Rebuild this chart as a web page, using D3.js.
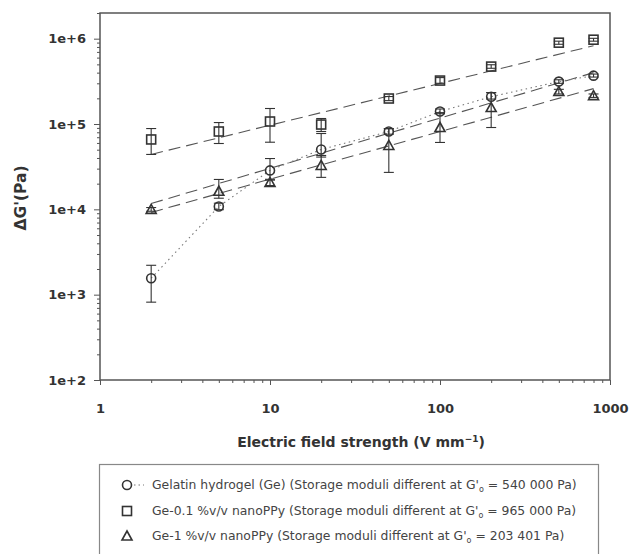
<!DOCTYPE html>
<html><head><meta charset="utf-8">
<script src="https://cdn.jsdelivr.net/npm/d3@7"></script>
<style>
body{margin:0;background:#fff;}
text{font-family:"DejaVu Sans",Arial,sans-serif;}
</style></head>
<body><svg id="c" width="629" height="554"></svg>
<script>
// ---- data ----
const fieldStrength = [2, 5, 10, 20, 50, 100, 200, 500, 800];
const geMean   = [1560, 10800, 28600, 50300, 81700, 140000, 209000, 314000, 369000];
const geLow    = [817, 9900, 22000, 41000, 76000, 132000, 196000, 300000, 355000];
const geHigh   = [2210, 11800, 39400, 77400, 88000, 150000, 233000, 330000, 385000];
const ge01Mean = [65900, 81700, 107000, 98600, 199000, 323000, 471000, 898000, 973000];
const ge01Low  = [44000, 59100, 61200, 81700, 188000, 300000, 450000, 860000, 935000];
const ge01High = [88500, 104000, 152000, 116000, 210000, 350000, 495000, 935000, 1010000];
const ge1Mean  = [10000, 16300, 20700, 32700, 56100, 91000, 156000, 240000, 215000];
const ge1Low   = [9500, 13500, 19000, 23700, 27100, 60800, 91000, 225000, 205000];
const ge1High  = [10500, 22400, 22500, 42800, 88500, 136000, 233000, 255000, 225000];
// regression (dashed) line end points
const fitX      = [2, 800];
const geFit     = [11700, 400000];
const ge01Fit   = [44000, 828000];
const ge1Fit    = [9200, 260000];
const xTickVals = [1, 10, 100, 1000];
const xTickLabels = ["1", "10", "100", "1000"];
const yTickVals = [1e2, 1e3, 1e4, 1e5, 1e6];
const yTickLabels = ["1e+2", "1e+3", "1e+4", "1e+5", "1e+6"];
const legendLabels = [
  ["Gelatin hydrogel (Ge) (Storage moduli different at G'", "540 000 Pa)"],
  ["Ge-0.1 %v/v nanoPPy (Storage moduli different at G'", "965 000 Pa)"],
  ["Ge-1 %v/v nanoPPy (Storage moduli different at G'", "203 401 Pa)"]
];

const svg = d3.select("#c");
const L = 100, R = 610, T = 13, B = 380;
const x = d3.scaleLog().domain([1, 1000]).range([L, R]);
const y = d3.scaleLog().domain([100, 2e6]).range([B, T]);
const ink = "#333";

// minor ticks
const xMinor = [], yMinor = [];
for (let d = 1; d < 1000; d *= 10) for (let k = 2; k <= 9; k++) xMinor.push(d * k);
for (let d = 100; d < 2e6; d *= 10) for (let k = 2; k <= 9; k++) if (d * k <= 2e6) yMinor.push(d * k);

// frame
svg.append("rect").attr("x", L).attr("y", T).attr("width", R - L).attr("height", B - T)
  .attr("fill", "none").attr("stroke", "#555").attr("stroke-width", 1.5);

const gx = svg.append("g").attr("transform", `translate(0,${B})`);
gx.call(d3.axisBottom(x).tickValues(xMinor).tickSize(3).tickSizeOuter(0).tickFormat(""));
gx.call(g => g.select(".domain").remove());
const gx2 = svg.append("g").attr("transform", `translate(0,${B})`)
  .call(d3.axisBottom(x).tickValues(xTickVals).tickSize(5).tickSizeOuter(0)
    .tickFormat((d, i) => xTickLabels[i]));
gx2.select(".domain").remove();
gx2.selectAll("text").attr("dy", 0).attr("y", 33).attr("font-size", 13).attr("font-weight", "bold").attr("fill", ink)
  .attr("font-family", "DejaVu Sans");

const gy = svg.append("g").attr("transform", `translate(${L},0)`);
gy.call(d3.axisLeft(y).tickValues(yMinor).tickSize(3).tickSizeOuter(0).tickFormat(""));
gy.select(".domain").remove();
const gy2 = svg.append("g").attr("transform", `translate(${L},0)`)
  .call(d3.axisLeft(y).tickValues(yTickVals).tickSize(6).tickSizeOuter(0)
    .tickFormat((d, i) => yTickLabels[i]));
gy2.select(".domain").remove();
gy2.selectAll("text").attr("x", -14).attr("font-size", 13).attr("font-weight", "bold").attr("fill", ink)
  .attr("font-family", "DejaVu Sans");
svg.selectAll(".tick line").attr("stroke", "#555");

// axis titles
const xt = svg.append("text").attr("x", 361).attr("y", 447).attr("text-anchor", "middle")
  .attr("font-size", 14).attr("font-weight", "bold").attr("fill", ink);
xt.append("tspan").text("Electric field strength (V mm");
xt.append("tspan").attr("dy", -5).attr("font-size", 9).text("−1");
xt.append("tspan").attr("dy", 5).text(")");
svg.append("text").attr("transform", "translate(26,198) rotate(-90)").attr("text-anchor", "middle")
  .attr("font-size", 15.5).attr("font-weight", "bold").attr("fill", ink).text("ΔG'(Pa)");

// lines
const line = d3.line().x(d => x(d[0])).y(d => y(d[1]));
[geFit, ge01Fit, ge1Fit].forEach(f => {
  svg.append("path").datum(fitX.map((v, i) => [v, f[i]])).attr("d", line)
    .attr("fill", "none").attr("stroke", "#555").attr("stroke-width", 1.1).attr("stroke-dasharray", "12,6");
});
svg.append("path").datum(fieldStrength.map((v, i) => [v, geMean[i]])).attr("d", line)
  .attr("fill", "none").attr("stroke", "#777").attr("stroke-width", 1.1).attr("stroke-dasharray", "1.5,3.5");

// error bars & markers
function series(mean, lo, hi, shape) {
  const g = svg.append("g");
  fieldStrength.forEach((xv, i) => {
    const cx = x(xv);
    g.append("line").attr("x1", cx).attr("x2", cx).attr("y1", y(lo[i])).attr("y2", y(hi[i]))
      .attr("stroke", ink).attr("stroke-width", 1.1);
    [lo[i], hi[i]].forEach(v => g.append("line").attr("x1", cx - 5).attr("x2", cx + 5)
      .attr("y1", y(v)).attr("y2", y(v)).attr("stroke", ink).attr("stroke-width", 1.1));
    drawMarker(g, shape, cx, y(mean[i]));
  });
}
function drawMarker(g, shape, cx, cy) {
  const s = { fill: "none", stroke: ink, "stroke-width": 1.6 };
  let m;
  if (shape === "circle") m = g.append("circle").attr("cx", cx).attr("cy", cy).attr("r", 4.5);
  else if (shape === "square") m = g.append("rect").attr("x", cx - 4.5).attr("y", cy - 4.5).attr("width", 9).attr("height", 9);
  else m = g.append("path").attr("d", `M${cx},${cy - 5}L${cx + 5},${cy + 4}L${cx - 5},${cy + 4}Z`);
  Object.entries(s).forEach(([k, v]) => m.attr(k, v));
}
series(geMean, geLow, geHigh, "circle");
series(ge01Mean, ge01Low, ge01High, "square");
series(ge1Mean, ge1Low, ge1High, "triangle");

// legend
svg.append("rect").attr("x", 99.5).attr("y", 464.5).attr("width", 499).attr("height", 100)
  .attr("fill", "#fff").attr("stroke", "#888").attr("stroke-width", 1.2);
const shapes = ["circle", "square", "triangle"];
const rowY = [485, 511, 536];
legendLabels.forEach((lab, i) => {
  const lg = svg.append("g");
  drawMarker(lg, shapes[i], 127, rowY[i]);
  if (i === 0) lg.append("line").attr("x1", 134).attr("x2", 144).attr("y1", rowY[i]).attr("y2", rowY[i])
    .attr("stroke", "#777").attr("stroke-dasharray", "1.5,3");
  const t = lg.append("text").attr("x", 152).attr("y", rowY[i] + 4).attr("font-size", 12.4).attr("fill", "#444");
  t.append("tspan").text(lab[0]);
  t.append("tspan").attr("dy", 3).attr("font-size", 8).text("o");
  t.append("tspan").attr("dy", -3).text(" = " + lab[1]);
});
</script></body></html>
